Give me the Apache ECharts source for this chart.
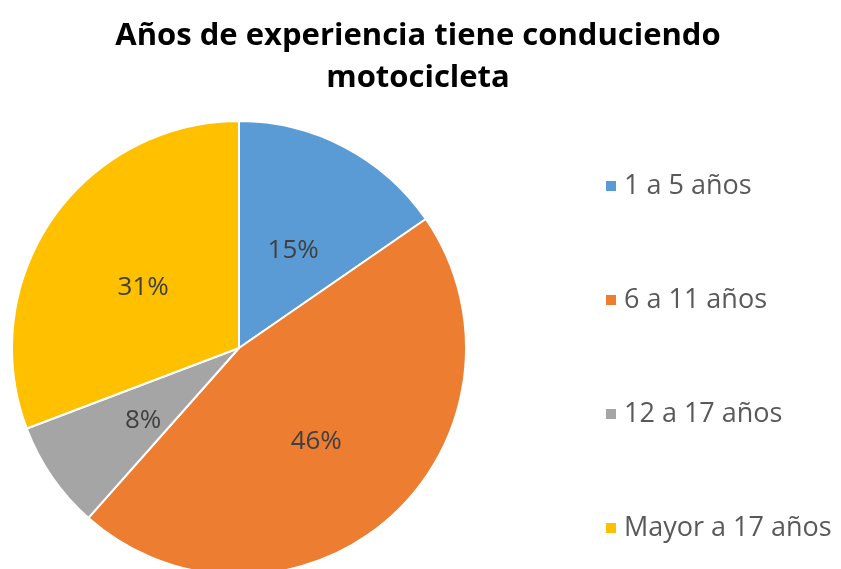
<!DOCTYPE html>
<html><head><meta charset="utf-8">
<script src="https://cdn.jsdelivr.net/npm/echarts@6/dist/echarts.min.js"></script>
<style>html,body{margin:0;padding:0;background:#fff}#c{width:841px;height:569px}</style>
</head><body><div id="c"></div>
<script>
var titleText = 'Años de experiencia tiene conduciendo\nmotocicleta';
var categories = ['1 a 5 años', '6 a 11 años', '12 a 17 años', 'Mayor a 17 años'];
var values = [2, 6, 1, 4];
var colors = ['#5B9BD5', '#ED7D31', '#A5A5A5', '#FFC000'];

var chart = echarts.init(document.getElementById('c'), null, {renderer: 'canvas'});
chart.setOption({
  animation: false,
  color: colors,
  title: {
    text: titleText,
    left: 413, top: 10, textAlign: 'center',
    textStyle: {fontFamily: 'Open Sans', fontWeight: 'bold', fontSize: 31, color: '#000', lineHeight: 42}
  },
  legend: {
    orient: 'vertical', left: 599, top: 166,
    itemWidth: 12, itemHeight: 12, itemGap: 84, icon: 'rect',
    textStyle: {fontFamily: 'Open Sans', fontSize: 27, color: '#595959', lineHeight: 30, padding: [0,0,0,2]},
    data: categories
  },
  series: [{
    type: 'pie',
    center: [239, 348], radius: 227,
    startAngle: 90, clockwise: true,
    itemStyle: {borderColor: '#fff', borderWidth: 2},
    label: {position: 'inner', formatter: function(p){return Math.round(p.percent) + '%';},
      fontFamily: 'Open Sans', fontSize: 26, color: '#404040', offset: [0, 6]},
    labelLine: {show: false},
    emphasis: {disabled: true},
    data: categories.map(function(c, i){return {name: c, value: values[i]};})
  }]
});
</script></body></html>
